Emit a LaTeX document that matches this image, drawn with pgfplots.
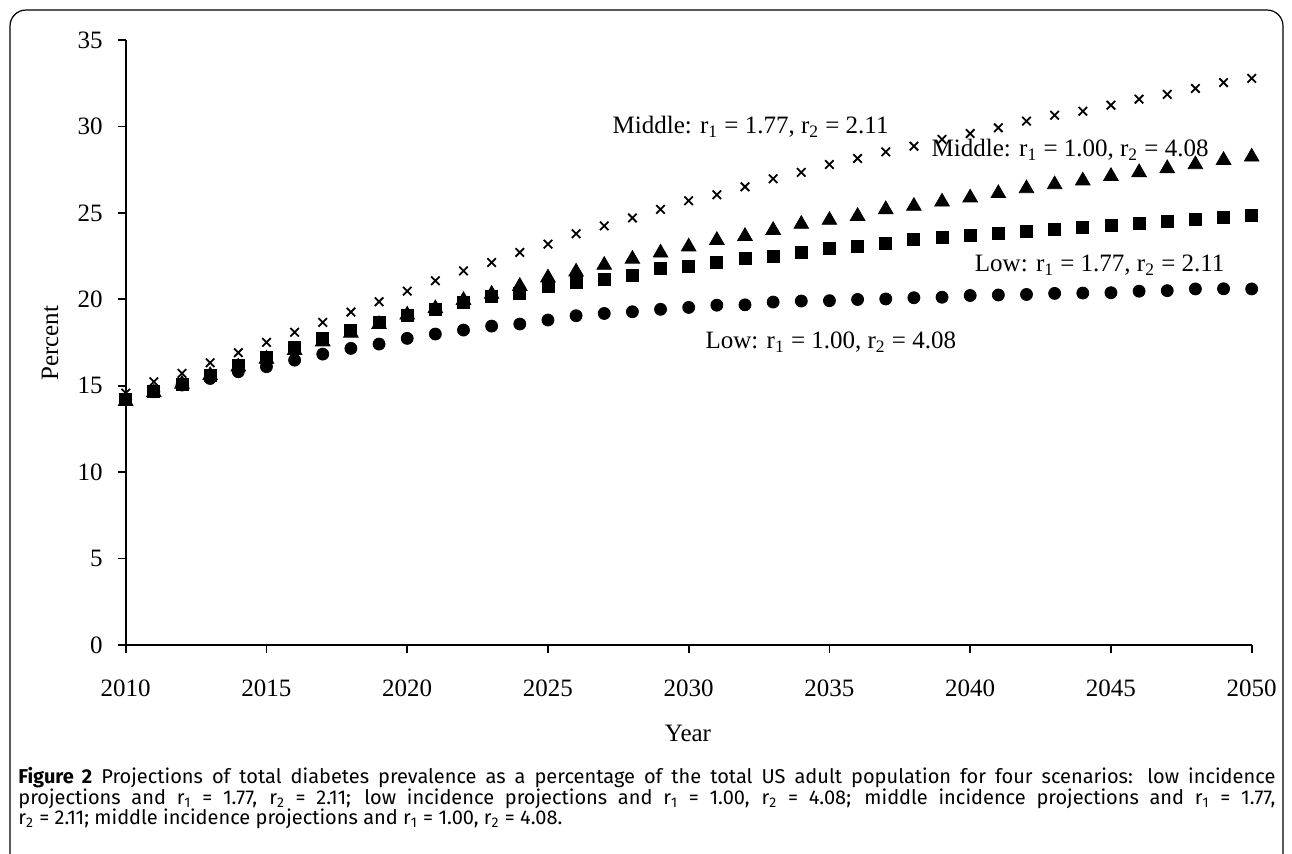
\documentclass[border=0pt]{standalone}
\usepackage{pgfplots}
\pgfplotsset{compat=1.18}
\usepackage{fontspec}
\setmainfont{Liberation Serif}
\newfontfamily\capfont{Fira Sans}

% prevalence (%) by year, four scenarios
\begin{document}
\begin{tikzpicture}
\useasboundingbox (0pt,0pt) rectangle (646pt,-426.5pt);
\draw[line width=0.6pt,rounded corners=8pt] (5pt,-5pt) -- (641.5pt,-5pt) -- (641.5pt,-440pt) -- (5pt,-440pt) -- cycle;
\begin{axis}[
  at={(62.85pt,-322.5pt)}, anchor=south west,
  scale only axis, width=563pt, height=302.5pt,
  xmin=2010, xmax=2050, ymin=0, ymax=35,
  xtick={2010,2015,...,2050}, ytick={0,5,...,35},
  axis x line*=bottom, axis y line*=left,
  axis line style={line width=0.9pt,-},
  tick align=outside, major tick length=4pt,
  tick style={line width=0.9pt,black},
  /pgf/number format/1000 sep={},
  /pgf/number format/assume math mode=true,
  tick label style={font=\fontsize{12.5}{14}\selectfont},
  xticklabel style={yshift=-10pt},
  yticklabel style={xshift=-4pt},
  xlabel={Year}, ylabel={Percent},
  label style={font=\fontsize{12.5}{14}\selectfont},
  xlabel style={at={(axis description cs:0.4994,-0.1455)},anchor=center},
  ylabel style={at={(axis description cs:-0.0672,0.499)},anchor=center},
  clip=false,
]
% Low: r1 = 1.00, r2 = 4.08
\addplot[only marks,mark=*,mark size=3pt,black] coordinates {
(2010,14.2)(2011,14.65)(2012,15.04)(2013,15.42)(2014,15.81)(2015,16.1)(2016,16.48)
(2017,16.83)(2018,17.16)(2019,17.41)(2020,17.74)(2021,17.99)(2022,18.22)(2023,18.45)
(2024,18.57)(2025,18.8)(2026,19.05)(2027,19.18)(2028,19.28)(2029,19.42)(2030,19.53)
(2031,19.66)(2032,19.68)(2033,19.84)(2034,19.9)(2035,19.92)(2036,19.99)(2037,20.02)
(2038,20.09)(2039,20.12)(2040,20.22)(2041,20.25)(2042,20.28)(2043,20.34)(2044,20.36)
(2045,20.38)(2046,20.47)(2047,20.5)(2048,20.6)(2049,20.61)(2050,20.6)};
% Low: r1 = 1.77, r2 = 2.11
\addplot[only marks,mark=square*,mark size=3pt,black] coordinates {
(2010,14.2)(2011,14.7)(2012,15.1)(2013,15.6)(2014,16.15)(2015,16.65)(2016,17.2)
(2017,17.75)(2018,18.2)(2019,18.65)(2020,19.05)(2021,19.42)(2022,19.8)(2023,20.15)
(2024,20.34)(2025,20.73)(2026,20.96)(2027,21.17)(2028,21.4)(2029,21.78)(2030,21.92)
(2031,22.11)(2032,22.36)(2033,22.5)(2034,22.69)(2035,22.94)(2036,23.08)(2037,23.23)
(2038,23.46)(2039,23.58)(2040,23.69)(2041,23.81)(2042,23.9)(2043,24.04)(2044,24.16)
(2045,24.29)(2046,24.39)(2047,24.52)(2048,24.62)(2049,24.74)(2050,24.87)};
% Middle: r1 = 1.00, r2 = 4.08
\addplot[only marks,mark=triangle*,mark size=4.2pt,black] coordinates {
(2010,14.1)(2011,14.6)(2012,15.1)(2013,15.6)(2014,16.1)(2015,16.55)(2016,17.05)
(2017,17.55)(2018,18.05)(2019,18.55)(2020,19.1)(2021,19.47)(2022,19.95)(2023,20.3)
(2024,20.76)(2025,21.25)(2026,21.59)(2027,21.98)(2028,22.33)(2029,22.69)(2030,23.04)
(2031,23.42)(2032,23.65)(2033,24.0)(2034,24.35)(2035,24.58)(2036,24.81)(2037,25.2)
(2038,25.39)(2039,25.64)(2040,25.88)(2041,26.13)(2042,26.41)(2043,26.64)(2044,26.86)
(2045,27.12)(2046,27.34)(2047,27.57)(2048,27.8)(2049,28.05)(2050,28.24)};
% Middle: r1 = 1.77, r2 = 2.11
\addplot[only marks,mark=x,mark size=3pt,black,mark options={line width=0.9pt}] coordinates {
(2010,14.57)(2011,15.23)(2012,15.71)(2013,16.33)(2014,16.91)(2015,17.51)(2016,18.09)
(2017,18.66)(2018,19.26)(2019,19.86)(2020,20.47)(2021,21.07)(2022,21.65)(2023,22.13)
(2024,22.71)(2025,23.19)(2026,23.79)(2027,24.25)(2028,24.71)(2029,25.2)(2030,25.7)
(2031,26.05)(2032,26.51)(2033,26.97)(2034,27.34)(2035,27.8)(2036,28.15)(2037,28.53)
(2038,28.86)(2039,29.25)(2040,29.59)(2041,29.92)(2042,30.31)(2043,30.65)(2044,30.88)
(2045,31.23)(2046,31.58)(2047,31.85)(2048,32.2)(2049,32.54)(2050,32.78)};
\begin{scope}[every node/.style={font=\fontsize{12.5}{14}\selectfont,inner sep=0pt}]
\node at (axis cs:2032.2,29.96) {Middle: r\textsubscript{1} = 1.77, r\textsubscript{2} = 2.11};
\node at (axis cs:2043.55,28.63) {Middle: r\textsubscript{1} = 1.00, r\textsubscript{2} = 4.08};
\node at (axis cs:2044.6,21.98) {Low: r\textsubscript{1} = 1.77, r\textsubscript{2} = 2.11};
\node at (axis cs:2035.05,17.52) {Low: r\textsubscript{1} = 1.00, r\textsubscript{2} = 4.08};
\end{scope}
\end{axis}
\node[anchor=north west,inner sep=0pt,text width=628.5pt,align=justify,
  font=\capfont\fontsize{10}{10.25}\selectfont] at (9pt,-383.5pt)
{\textbf{Figure 2} Projections of total diabetes prevalence as a percentage of the total US adult population for four scenarios: low incidence\linebreak
projections and r\textsubscript{1} = 1.77, r\textsubscript{2} = 2.11; low incidence projections and r\textsubscript{1} = 1.00, r\textsubscript{2} = 4.08; middle incidence projections and r\textsubscript{1} = 1.77,\linebreak
r\textsubscript{2} = 2.11; middle incidence projections and r\textsubscript{1} = 1.00, r\textsubscript{2} = 4.08.};
\end{tikzpicture}
\end{document}
